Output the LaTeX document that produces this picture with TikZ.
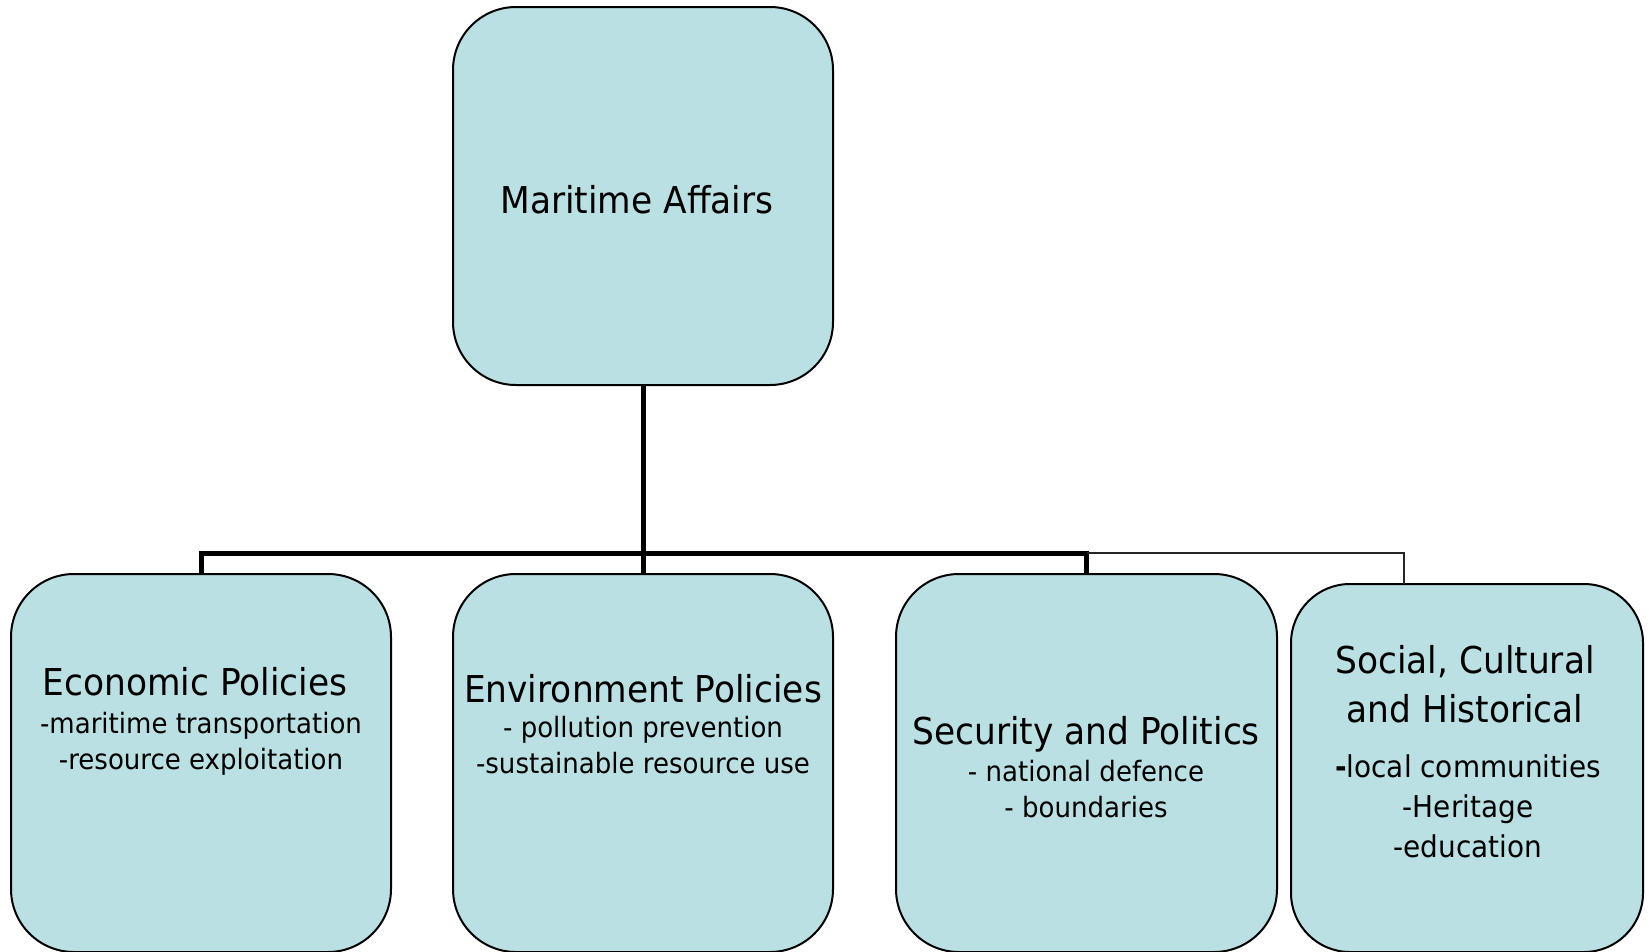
\documentclass[tikz,border=0pt]{standalone}
\usepackage{fontspec}
\setmainfont{DejaVu Sans}[FakeStretch=0.93]
\usepackage{tikz}

\definecolor{boxfill}{RGB}{187,224,227}

\tikzset{
  topicbox/.style={draw=black, line width=2pt, fill=boxfill, rounded corners=63pt,
    minimum width=380pt, minimum height=378pt, inner sep=0pt},
  trunk/.style={line width=5pt, draw=black},
  branch/.style={line width=1.5pt, draw=black!85},
  headtext/.style={font=\fontsize{37}{49}\selectfont, align=center, anchor=base},
  itemtext/.style={font=\fontsize{28}{36}\selectfont, align=center, anchor=base},
}

\begin{document}
\begin{tikzpicture}[x=1pt,y=1pt]
\tikzstyle{every node}+=[inner sep=0pt]
\useasboundingbox (0,0) rectangle (1649,-951);
\clip (0,0) rectangle (1649,-951);
% boxes
\node [topicbox] (maritime) at (643,-196) {};
\node [topicbox] (econ) at (201,-763) {};
\node [topicbox] (env) at (643,-763) {};
\node [topicbox, minimum width=381pt] (sec) at (1086.5,-763) {};
\node [topicbox, minimum width=352pt, minimum height=368pt, rounded corners=59pt] (social) at (1467,-768) {};
% connectors
\coordinate (bar) at (643,-553);
\coordinate (socialtop) at (1404,-584);
\draw [trunk] (maritime.south) -- (env.north);
\draw [trunk] (econ.north) |- (bar) -| (sec.north);
\draw [branch] (sec.north |- bar) -| (socialtop);
% texts (base = last line)
\node [headtext] (maritime-title) at (637,-213) {Maritime Affairs};
\node [headtext] (econ-title) at (195,-695) {Economic Policies};
\node [itemtext] (econ-items) at (201,-769) {-maritime transportation\\-resource exploitation};
\node [headtext] (env-title) at (643,-702) {Environment Policies};
\node [itemtext] (env-items) at (643,-773) {- pollution prevention\\-sustainable resource use};
\node [headtext] (sec-title) at (1086,-744) {Security and Politics};
\node [itemtext] (sec-items) at (1086,-817) {- national defence\\- boundaries};
\node [headtext] (social-title) at (1465,-722) {Social, Cultural\\and Historical};
\node [itemtext, font=\fontsize{30}{40}\selectfont] (social-items) at (1468,-857) {{\bfseries -}local communities\\-Heritage\\-education};
\end{tikzpicture}
\end{document}
